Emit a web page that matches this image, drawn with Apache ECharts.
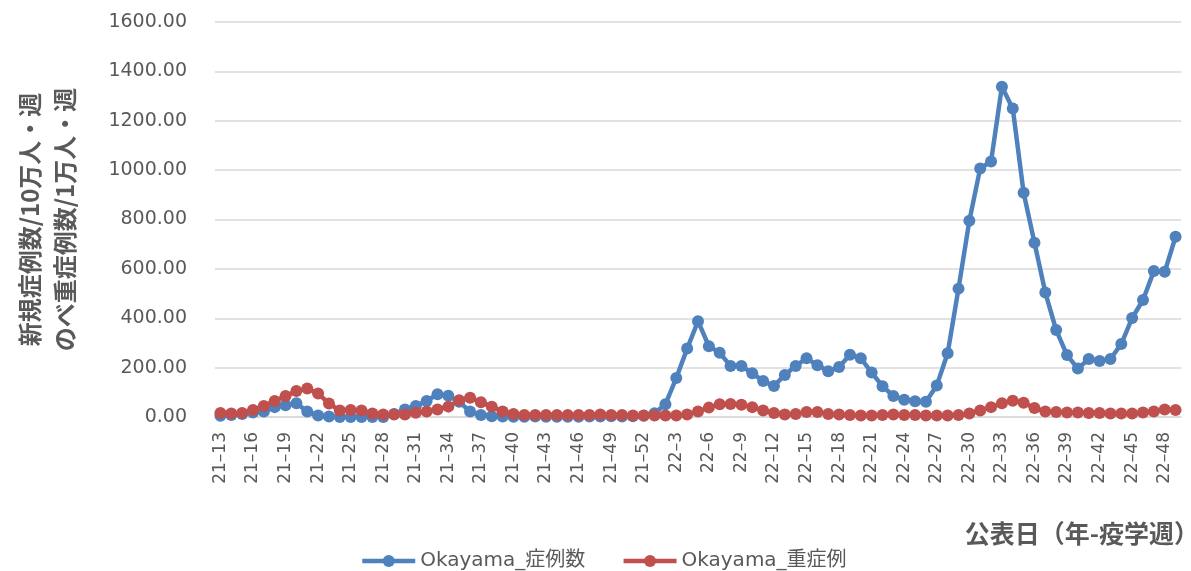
<!DOCTYPE html>
<html>
<head>
<meta charset="utf-8">
<script src="https://cdn.jsdelivr.net/npm/echarts@6/dist/echarts.min.js"></script>
<style>
  html, body { margin: 0; padding: 0; background: #fff; }
  #chart { width: 1191px; height: 571px; }
</style>
</head>
<body>
<div id="chart"></div>
<script>
// Epidemiological weeks shown on the category axis (2021 wk13 .. 2022 wk49)
const weeks2021 = [13, 52];
const weeks2022 = [1, 49];

// New cases per 100k population per week
const casesOkayama = [
  5, 8, 12, 18, 22, 40, 48, 56, 22, 6,
  2, 0, 0, 0, 0, 0, 12, 30, 45, 65,
  92, 86, 62, 22, 8, 3, 2, 1, 1, 2,
  1, 1, 1, 1, 2, 2, 3, 2, 3, 5,
  15, 52, 158, 277, 388, 287, 260, 207, 207, 177,
  146, 126, 170, 207, 238, 210, 185, 203, 252, 238,
  180, 125, 85, 70, 64, 62, 128, 258, 520, 795,
  1007, 1035, 1338, 1250, 908, 706, 504, 352, 251, 196,
  235, 227, 235, 296, 401, 474, 591, 588, 730
];

// Cumulative severe cases per 10k population per week
const severeOkayama = [
  16, 14, 16, 28, 45, 65, 85, 105, 115, 95,
  55, 26, 28, 26, 14, 10, 10, 10, 17, 22,
  30, 42, 68, 78, 60, 42, 22, 12, 8, 8,
  8, 8, 8, 8, 8, 10, 8, 8, 6, 6,
  6, 6, 6, 10, 22, 38, 52, 53, 50, 40,
  26, 16, 10, 12, 20, 20, 12, 10, 8, 6,
  6, 8, 10, 8, 8, 6, 6, 6, 8, 14,
  26, 40, 56, 66, 58, 36, 22, 20, 18, 18,
  16, 16, 14, 14, 14, 18, 22, 30, 28
];

const seriesNames = ['Okayama_症例数', 'Okayama_重症例'];
const yTicks = { min: 0, max: 1600, step: 200 };

function weekLabels(yy, range) {
  const out = [];
  for (let w = range[0]; w <= range[1]; w++) out.push(yy + '–' + w);
  return out;
}
const categories = weekLabels('21', weeks2021).concat(weekLabels('22', weeks2022));

const grey = '#595959';
const latin = "'DejaVu Sans', 'Noto Sans CJK JP', sans-serif";
const cjk = "'Noto Sans CJK JP', sans-serif";

const chart = echarts.init(document.getElementById('chart'), null, { renderer: 'canvas' });

function lineSeries(name, data, color) {
  return {
    name: name,
    type: 'line',
    data: data,
    symbol: 'circle',
    symbolSize: 12,
    showAllSymbol: true,
    lineStyle: { color: color, width: 4.5 },
    itemStyle: { color: color },
    emphasis: { disabled: true }
  };
}

chart.setOption({
  animation: false,
  backgroundColor: '#ffffff',
  grid: { left: 215, right: 10, top: 22, bottom: 154, containLabel: false },
  xAxis: {
    type: 'category',
    data: categories,
    boundaryGap: true,
    axisTick: { show: false },
    axisLine: { show: true, lineStyle: { color: '#d9d9d9', width: 1.5 } },
    axisLabel: {
      interval: 2,
      rotate: 90,
      margin: 15,
      color: grey,
      fontFamily: latin,
      fontSize: 17
    }
  },
  yAxis: {
    type: 'value',
    min: yTicks.min,
    max: yTicks.max,
    interval: yTicks.step,
    name: '新規症例数/10万人・週\nのべ重症例数/1万人・週',
    nameLocation: 'middle',
    nameRotate: 90,
    nameGap: 133,
    nameTextStyle: {
      color: grey,
      fontFamily: cjk,
      fontWeight: 'bold',
      fontSize: 24,
      lineHeight: 35
    },
    axisLine: { show: false },
    axisTick: { show: false },
    splitLine: { lineStyle: { color: '#d9d9d9', width: 1.5 } },
    axisLabel: {
      margin: 28,
      color: grey,
      fontFamily: latin,
      fontSize: 19,
      formatter: v => v.toFixed(2)
    }
  },
  legend: {
    left: 355,
    top: 546,
    itemWidth: 53,
    itemHeight: 15,
    itemGap: 36,
    lineStyle: { width: 4.5 },
    textStyle: { color: grey, fontFamily: latin, fontSize: 20 },
    data: seriesNames
  },
  graphic: [{
    type: 'text',
    right: -8,
    top: 521,
    style: {
      text: '公表日（年-疫学週）',
      fill: grey,
      font: 'bold 25px ' + cjk
    }
  }],
  series: [
    lineSeries(seriesNames[0], casesOkayama, '#4F81BD'),
    lineSeries(seriesNames[1], severeOkayama, '#C0504D')
  ]
});
</script>
</body>
</html>
